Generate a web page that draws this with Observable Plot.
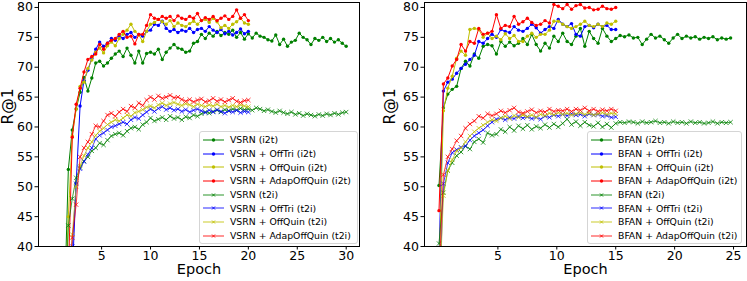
<!DOCTYPE html>
<html><head><meta charset="utf-8">
<script src="https://cdn.jsdelivr.net/npm/d3@7"></script>
<script src="https://cdn.jsdelivr.net/npm/@observablehq/plot@0.6"></script>
<style>
html,body{margin:0;padding:0;background:#fff;}
#wrap{position:relative;width:747px;height:281px;overflow:hidden;font-family:"DejaVu Sans",sans-serif;}
.panel{position:absolute;top:0;}
.legend{position:absolute;border:1px solid #d5d5d5;border-radius:3px;background:rgba(255,255,255,0.85);font-size:9.3px;color:#000;box-sizing:border-box;padding:1px 0 0 3px;}
.row{height:13.7px;display:flex;align-items:center;white-space:nowrap;}
.row svg{margin-right:6px;flex:none;}
</style></head><body><div id="wrap"></div>
<script>
// ---------- data ----------
const G = "#008000", B = "#0000ff", Y = "#bfbf00", R = "#ff0000";

// VSRN panel: evaluations every 0.4 epoch starting at epoch 1.2
const vsrnStart = 1.2, vsrnStep = 0.4;
const vsrn_i2t = [30,52.9,59.5,63.0,65.8,68.3,66.0,68.2,70.7,71.0,70.2,70.7,71.5,72.2,72.7,71.8,73.2,72.0,70.7,72.7,70.7,72.3,72.5,72.2,73.0,71.3,72.5,73.2,73.8,73.2,73.0,72.5,72.7,74.0,74.3,75.5,74.8,75.7,75.2,76.0,75.3,75.8,75.5,76.2,75.0,75.8,74.7,75.6,74.9,75.7,75.2,75.0,74.6,74.4,75.4,73.8,74.7,73.5,74.2,74.5,75.7,75.0,74.6,73.8,74.8,74.5,75.0,74.3,74.8,74.2,74.6,74.0,73.5];
const vsrnOffTri_i2t = [15,22,35,50.6,63.5,67.8,69.5,71.5,73.0,74.2,73.5,74.0,74.8,74.5,75.2,74.8,75.5,75.8,75.0,75.5,75.2,76.0,76.2,77.2,77.0,77.7,76.5,76.0,76.3,75.8,76.2,76.0,76.5,75.8,76.3,76.5,76.0,76.8,76.2,75.8,76.3,75.6,76.0,75.4,75.8,76.4,75.6,76.0];
const vsrnOffQuin_i2t = [25,45,58.5,63.0,66.8,67.5,69.8,71.2,72.5,73.2,72.4,73.6,74.2,73.6,74.8,75.5,76.2,77.2,76.0,75.4,74.3,76.0,77.2,77.5,78.0,77.6,77.2,77.8,76.8,77.4,77.0,76.8,77.3,77.7,77.2,77.8,78.0,77.5,78.2,77.6,76.6,77.0,76.5,77.2,77.6,78.2,77.4,77.2];
const vsrnAdap_i2t = [20,35,58.3,63.8,66.5,69.2,71.3,71.8,72.2,73.8,73.0,74.0,74.5,74.8,75.5,76.0,75.0,75.2,73.9,75.5,75.5,77.0,78.8,78.2,78.0,78.5,78.2,78.5,77.8,78.6,78.2,78.0,78.5,78.2,79.0,77.8,78.3,78.0,78.5,77.8,78.2,78.6,78.0,78.5,79.6,78.2,78.8,77.8];
const vsrn_t2i = [25,43.5,48.0,51.5,53.2,54.3,55.0,56.0,56.5,57.3,57.0,57.8,58.5,58.8,59.0,58.6,59.3,59.8,60.0,59.6,60.4,60.8,61.5,61.0,61.3,61.6,61.2,61.8,61.4,61.6,61.2,61.7,61.5,62.0,61.8,62.2,62.5,62.3,62.6,62.8,62.5,62.9,62.7,63.0,62.8,63.1,62.9,63.0,62.8,63.2,63.0,62.7,62.9,62.6,62.4,62.7,62.4,62.2,62.5,62.1,62.3,61.9,62.2,62.0,61.8,62.1,61.9,62.2,62.0,62.3,62.1,62.4,62.5];
const vsrnOffTri_t2i = [20,28,40,50.5,53.0,54.2,55.4,56.5,58.0,58.6,59.0,59.5,60.0,60.2,60.5,60.8,60.5,61.2,61.6,61.4,62.0,62.5,63.0,62.6,63.1,63.4,62.9,63.2,62.8,63.0,62.6,62.9,62.5,62.8,63.0,62.7,62.4,62.8,62.5,62.9,62.6,62.3,62.7,62.5,62.8,62.4,62.6,62.5];
const vsrnOffQuin_t2i = [22,32,42,50,53.5,55.2,56.5,57.5,58.6,59.3,59.8,60.4,60.8,61.2,61.0,61.5,62.0,61.8,62.4,62.6,62.9,63.3,63.5,63.2,63.7,64.0,63.6,63.9,64.1,63.8,63.6,63.9,63.7,63.4,63.8,63.6,63.4,63.7,63.5,63.8,63.4,63.6,63.3,63.6,63.4,63.7,63.5,63.4];
const vsrnAdap_t2i = [25,33,41.5,47.0,55.0,56.5,57.5,58.8,60.2,60.0,61.0,62.0,62.3,61.8,62.5,63.0,62.6,63.5,63.2,64.0,63.6,64.5,65.0,64.6,65.2,64.8,65.0,65.3,64.9,65.0,64.6,64.3,64.6,64.2,64.5,64.7,64.2,64.4,64.8,64.3,64.6,64.2,64.5,64.8,64.3,64.1,64.4,64.5];

// BFAN panel: evaluations every 0.375 epoch starting at epoch 0
const bfanStart = 0, bfanStep = 0.375;
const bfan_i2t = [50.2,63.2,65.5,66.3,66.8,69.8,71.0,70.2,72.2,71.5,73.5,73.8,73.6,72.2,74.3,73.5,74.2,73.6,74.0,74.8,73.8,75.5,73.8,72.7,74.0,73.2,75.2,74.3,75.7,74.3,73.8,75.2,76.5,73.5,76.0,74.8,74.0,76.5,75.2,74.3,74.8,75.3,75.1,75.4,74.9,75.0,73.8,74.7,75.5,74.9,75.2,74.6,74.0,74.9,75.5,74.8,75.2,74.9,75.1,74.7,75.0,74.8,75.1,74.6,74.9,74.7,74.9];
const bfanOffTri_i2t = [38,66.0,67.5,68.0,69.0,69.8,70.5,71.3,72.0,74.3,74.0,74.8,75.5,75.0,76.3,76.0,75.8,76.8,76.2,76.0,76.5,77.2,76.6,75.7,76.3,76.8,76.5,78.0,77.2,76.8,77.3,75.5,75.2,76.8,77.0,76.6,77.2,76.8,77.0,76.3,76.3];
const bfanOffQuin_i2t = [35,62.7,66.5,68.5,71.5,72.7,72.0,76.3,76.5,76.3,75.0,75.7,74.8,75.2,74.6,75.6,74.8,75.3,74.3,74.3,75.2,75.7,75.0,75.5,75.5,76.2,77.7,77.7,77.2,76.8,76.5,76.8,77.2,77.7,77.0,76.8,77.2,76.8,77.4,77.2,77.7];
const bfanAdap_i2t = [46.0,67.2,68.2,70.2,71.3,73.8,72.7,74.3,74.0,76.5,75.5,75.7,76.0,78.8,76.5,77.0,76.8,78.5,77.2,77.6,78.2,77.5,77.0,77.2,77.8,77.4,80.5,80.2,79.8,80.5,79.7,80.3,80.5,79.9,80.0,79.6,79.7,80.2,79.8,79.7,80.0];
const bfan_t2i = [40.5,49.0,52.7,54.0,55.2,55.8,56.8,56.3,57.5,58.0,57.4,59.0,58.6,58.8,59.6,59.2,60.0,59.4,60.2,59.7,60.3,59.6,60.1,59.8,60.4,59.9,60.5,60.0,60.6,61.3,60.4,60.9,60.2,60.8,60.3,60.1,60.7,60.0,60.5,59.9,60.6,60.8,60.7,60.9,60.8,60.6,60.9,60.7,60.8,61.0,60.7,60.8,60.6,60.9,60.7,60.8,60.6,60.9,60.7,60.8,60.6,60.7,60.9,60.6,60.8,60.7,60.8];
const bfanOffTri_t2i = [30,50.5,54.0,55.7,56.2,56.6,56.8,57.8,58.5,59.0,59.5,60.2,60.8,61.3,61.5,61.2,61.6,61.4,61.8,61.5,61.7,61.4,61.6,61.3,61.8,61.6,62.0,61.8,62.1,61.9,62.2,62.0,62.1,61.8,62.2,62.0,62.1,61.8,61.9,61.6,61.7];
const bfanOffQuin_t2i = [30,48.5,52.7,54.5,56.0,56.5,57.5,58.5,59.2,59.8,60.3,60.8,61.2,61.0,61.5,61.8,61.4,61.9,61.6,62.0,61.7,62.0,61.6,62.1,61.9,62.3,62.0,62.4,62.1,62.3,62.0,62.2,62.4,62.1,62.3,62.0,62.2,62.4,62.1,62.3,62.2];
const bfanAdap_t2i = [35,52.0,55.0,56.3,57.7,58.5,59.8,60.5,61.0,61.8,61.5,62.2,61.9,62.2,62.7,62.4,62.8,63.2,62.5,62.3,62.6,62.9,62.4,62.7,62.5,63.0,62.6,62.8,62.7,63.0,62.6,63.0,62.8,63.2,62.7,63.0,62.6,62.9,62.7,63.0,62.7];

const yTicks = [40,45,50,55,60,65,70,75,80];
const vsrnXTicks = [5,10,15,20,25,30];
const bfanXTicks = [5,10,15,20,25];

const vsrnSeries = [
  {label:"VSRN (i2t)", values:vsrn_i2t, color:G, kind:"i2t"},
  {label:"VSRN + OffTri (i2t)", values:vsrnOffTri_i2t, color:B, kind:"i2t"},
  {label:"VSRN + OffQuin (i2t)", values:vsrnOffQuin_i2t, color:Y, kind:"i2t"},
  {label:"VSRN + AdapOffQuin (i2t)", values:vsrnAdap_i2t, color:R, kind:"i2t"},
  {label:"VSRN (t2i)", values:vsrn_t2i, color:G, kind:"t2i"},
  {label:"VSRN + OffTri (t2i)", values:vsrnOffTri_t2i, color:B, kind:"t2i"},
  {label:"VSRN + OffQuin (t2i)", values:vsrnOffQuin_t2i, color:Y, kind:"t2i"},
  {label:"VSRN + AdapOffQuin (t2i)", values:vsrnAdap_t2i, color:R, kind:"t2i"}
];
const bfanSeries = [
  {label:"BFAN (i2t)", values:bfan_i2t, color:G, kind:"i2t"},
  {label:"BFAN + OffTri (i2t)", values:bfanOffTri_i2t, color:B, kind:"i2t"},
  {label:"BFAN + OffQuin (i2t)", values:bfanOffQuin_i2t, color:Y, kind:"i2t"},
  {label:"BFAN + AdapOffQuin (i2t)", values:bfanAdap_i2t, color:R, kind:"i2t"},
  {label:"BFAN (t2i)", values:bfan_t2i, color:G, kind:"t2i"},
  {label:"BFAN + OffTri (t2i)", values:bfanOffTri_t2i, color:B, kind:"t2i"},
  {label:"BFAN + OffQuin (t2i)", values:bfanOffQuin_t2i, color:Y, kind:"t2i"},
  {label:"BFAN + AdapOffQuin (t2i)", values:bfanAdap_t2i, color:R, kind:"t2i"}
];

// ---------- drawing ----------
function rows(s, start, step) {
  return s.values.map((v, i) => ({epoch: start + step * i, r1: v}));
}

function panel(series, start, step, opt) {
  const marks = [];
  for (const s of series) {
    const d = rows(s, start, step);
    const t2i = s.kind === "t2i";
    marks.push(Plot.line(d, {x:"epoch", y:"r1", stroke:s.color, strokeWidth:1, strokeOpacity: t2i ? 0.75 : 1, clip:true}));
    if (t2i) marks.push(Plot.dot(d, {x:"epoch", y:"r1", symbol:"times", r:2.1, stroke:s.color, strokeWidth:0.9, strokeOpacity:0.85, clip:true}));
    else marks.push(Plot.dot(d, {x:"epoch", y:"r1", r:1.7, fill:s.color, stroke:"none", clip:true}));
  }
  return Plot.plot({
    width: opt.width, height: 281,
    marginLeft: opt.ml, marginRight: opt.mr, marginTop: 2, marginBottom: 35,
    x: {domain: opt.xDomain},
    y: {domain: [40, 80.83]},
    style: {fontFamily: "DejaVu Sans", fontSize: "12.5px", color: "#000", background: "transparent", overflow: "visible"},
    marks: [
      ...marks,
      Plot.frame({stroke: "#000", strokeWidth: 1}),
      Plot.axisX({ticks: opt.xTicks, tickSize: 3.5, tickPadding: 1, label: null, tickFormat: d => String(d)}),
      Plot.axisY({ticks: yTicks, tickSize: 3.5, tickPadding: 2, label: null, tickFormat: d => String(d)}),
      Plot.text(["Epoch"], {frameAnchor: "bottom", dy: 27.9, fontSize: 14.5, fill: "#000"}),
      Plot.text(["R@1"], {frameAnchor: "left", dx: opt.ylabDx, rotate: -90, fontSize: 15.5, fill: "#000"})
    ]
  });
}

function legend(series, left, top, width) {
  const div = document.createElement("div");
  div.className = "legend";
  div.style.left = left + "px"; div.style.top = top + "px"; div.style.width = width + "px";
  for (const s of series) {
    const row = document.createElement("div");
    row.className = "row";
    const t2i = s.kind === "t2i";
    const mk = t2i
      ? `<path d="M9,3.5L12,6.5M12,3.5L9,6.5" stroke="${s.color}" stroke-width="0.9"/>`
      : `<circle cx="10.5" cy="5" r="1.7" fill="${s.color}"/>`;
    row.innerHTML = `<svg width="21" height="10"><line x1="0" y1="5" x2="21" y2="5" stroke="${s.color}" stroke-width="${t2i ? 1.4 : 1}" stroke-opacity="${t2i ? 0.6 : 1}"/>${mk}</svg><span>${s.label}</span>`;
    div.appendChild(row);
  }
  return div;
}

const wrap = document.getElementById("wrap");
const left = panel(vsrnSeries, vsrnStart, vsrnStep, {width: 373, ml: 38, mr: 14, xDomain: [-1.45, 31.36], xTicks: vsrnXTicks, ylabDx: -30});
left.classList.add("panel"); left.style.left = "0px";
wrap.appendChild(left);
const right = panel(bfanSeries, bfanStart, bfanStep, {width: 373, ml: 50, mr: 1, xDomain: [-1.23, 26.1], xTicks: bfanXTicks, ylabDx: -34});
right.classList.add("panel"); right.style.left = "374px";
wrap.appendChild(right);
wrap.appendChild(legend(vsrnSeries, 199, 131, 159));
wrap.appendChild(legend(bfanSeries, 587, 131, 155));
</script></body></html>
